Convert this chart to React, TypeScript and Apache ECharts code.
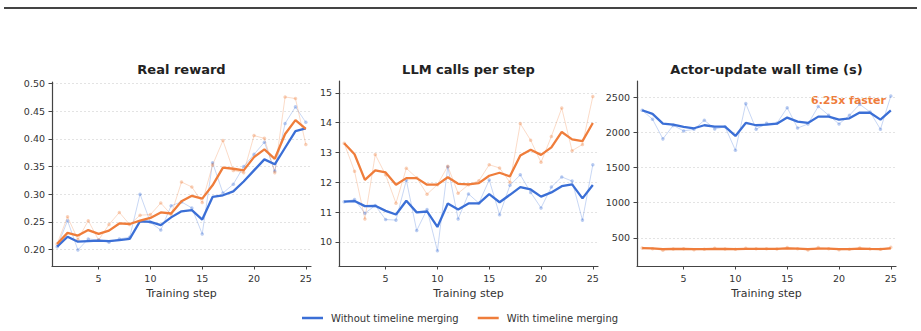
import React, { useEffect, useRef } from "react";
import * as echarts from "echarts";

const steps = [1, 2, 3, 4, 5, 6, 7, 8, 9, 10, 11, 12, 13, 14, 15, 16, 17, 18, 19, 20, 21, 22, 23, 24, 25];
const xTicks = [5, 10, 15, 20, 25];

const panelTitles = ["Real reward", "LLM calls per step", "Actor-update wall time (s)"];
const seriesNames = ["Without timeline merging", "With timeline merging"];

const rewardWithoutRaw = [0.205, 0.252, 0.199, 0.219, 0.217, 0.213, 0.219, 0.222, 0.3, 0.249, 0.235, 0.279, 0.286, 0.275, 0.228, 0.357, 0.302, 0.318, 0.35, 0.372, 0.394, 0.342, 0.428, 0.458, 0.43];
const rewardWithoutSmooth = [0.205, 0.223, 0.214, 0.215, 0.216, 0.215, 0.217, 0.219, 0.251, 0.25, 0.244, 0.258, 0.269, 0.271, 0.254, 0.295, 0.298, 0.305, 0.323, 0.343, 0.363, 0.354, 0.384, 0.414, 0.419];
const rewardWithRaw = [0.21, 0.259, 0.218, 0.252, 0.217, 0.245, 0.267, 0.245, 0.262, 0.263, 0.284, 0.263, 0.322, 0.313, 0.285, 0.353, 0.397, 0.343, 0.339, 0.406, 0.401, 0.339, 0.476, 0.473, 0.39];
const rewardWithSmooth = [0.21, 0.23, 0.225, 0.235, 0.228, 0.234, 0.247, 0.246, 0.252, 0.257, 0.267, 0.265, 0.287, 0.297, 0.292, 0.316, 0.348, 0.346, 0.343, 0.367, 0.381, 0.364, 0.409, 0.434, 0.418];

const callsWithoutRaw = [11.35, 11.42, 10.96, 11.22, 10.75, 10.73, 12.07, 10.38, 11.09, 9.7, 12.52, 10.77, 11.61, 11.3, 12.08, 10.91, 11.9, 12.25, 11.66, 11.14, 11.84, 12.18, 12.04, 10.73, 12.59];
const callsWithoutSmooth = [11.35, 11.37, 11.2, 11.21, 11.04, 10.92, 11.38, 10.99, 11.02, 10.5, 11.29, 11.09, 11.29, 11.29, 11.6, 11.33, 11.58, 11.84, 11.76, 11.52, 11.66, 11.87, 11.93, 11.46, 11.91];
const callsWithRaw = [13.31, 12.37, 10.77, 12.93, 12.25, 11.3, 12.47, 12.15, 11.6, 11.92, 12.54, 11.63, 11.92, 12.05, 12.59, 12.48, 12.0, 13.97, 13.41, 12.67, 13.54, 14.49, 13.06, 13.27, 14.88];
const callsWithSmooth = [13.31, 12.94, 12.08, 12.4, 12.33, 11.92, 12.14, 12.14, 11.92, 11.92, 12.17, 11.95, 11.93, 11.97, 12.22, 12.32, 12.2, 12.9, 13.09, 12.92, 13.17, 13.69, 13.44, 13.38, 13.99];

const timeWithoutRaw = [2315, 2187, 1908, 2100, 2021, 2044, 2173, 2050, 2080, 1746, 2410, 2045, 2130, 2130, 2352, 2062, 2120, 2370, 2245, 2120, 2243, 2400, 2290, 2045, 2518];
const timeWithoutSmooth = [2315, 2263, 2125, 2111, 2078, 2059, 2102, 2083, 2083, 1950, 2135, 2102, 2110, 2125, 2211, 2154, 2135, 2225, 2225, 2182, 2201, 2282, 2280, 2182, 2315];
const timeWithRaw = [355, 345, 322, 340, 345, 330, 335, 350, 340, 335, 350, 345, 345, 340, 360, 345, 325, 360, 345, 330, 335, 355, 340, 335, 365];
const timeWithSmooth = [352, 348, 338, 340, 342, 337, 337, 342, 340, 338, 342, 342, 342, 342, 348, 345, 338, 345, 344, 339, 337, 344, 341, 339, 350];

const rewardTicks = [0.2, 0.25, 0.3, 0.35, 0.4, 0.45, 0.5];
const callsTicks = [10, 11, 12, 13, 14, 15];
const timeTicks = [500, 1000, 1500, 2000, 2500];

const annotationText = "6.25x faster";

const BLUE = "#3b6fd6";
const ORANGE = "#ef7d3b";
const FONT = "DejaVu Sans";

export default function App() {
  const ref = useRef<HTMLDivElement>(null);

  useEffect(() => {
    document.body.style.margin = "0";
    if (!ref.current) return;
    const chart = echarts.init(ref.current, null, { renderer: "svg" });

    const grids = [
      { left: 52, top: 82, width: 259, height: 184 },
      { left: 339, top: 81, width: 259, height: 185 },
      { left: 637, top: 81, width: 259, height: 185 },
    ];
    const yRanges = [
      { min: 0.17, max: 0.503, ticks: rewardTicks, fmt: (v: number) => v.toFixed(2) },
      { min: 9.19, max: 15.4, ticks: callsTicks, fmt: (v: number) => String(v) },
      { min: 98, max: 2732, ticks: timeTicks, fmt: (v: number) => String(v) },
    ];
    const panelData = [
      [rewardWithoutRaw, rewardWithRaw, rewardWithoutSmooth, rewardWithSmooth],
      [callsWithoutRaw, callsWithRaw, callsWithoutSmooth, callsWithSmooth],
      [timeWithoutRaw, timeWithRaw, timeWithoutSmooth, timeWithSmooth],
    ];

    const axisLine = { show: true, lineStyle: { color: "#444", width: 1.2 } };

    const xAxes = grids.map((_, i) => ({
      type: "value",
      gridIndex: i,
      min: 0.5,
      max: 25.5,
      axisLine,
      axisTick: { show: true, length: 3.5, customValues: xTicks, lineStyle: { color: "#444", width: 1 } },
      axisLabel: { customValues: xTicks, color: "#333", fontFamily: FONT, fontSize: 9.5, margin: 7 },
      splitLine: { show: false },
      name: "Training step",
      nameLocation: "middle",
      nameGap: 18,
      nameTextStyle: { color: "#333", fontFamily: FONT, fontSize: 11, verticalAlign: "top" },
    }));

    const yAxes = yRanges.map((r, i) => ({
      type: "value",
      gridIndex: i,
      min: r.min,
      max: r.max,
      axisLine,
      axisTick: { show: true, length: 3.5, customValues: r.ticks, lineStyle: { color: "#444", width: 1 } },
      axisLabel: { customValues: r.ticks, formatter: r.fmt, color: "#333", fontFamily: FONT, fontSize: 9.5, margin: 7 },
      splitLine: { show: true, lineStyle: { color: "#dcdcdc", width: 0.8, type: [2, 2] } },
    }));

    const series: any[] = [];
    panelData.forEach((arrs, i) => {
      const [woRaw, wRaw, woS, wS] = arrs;
      const rawStyle = (color: string, name: string, data: number[]) => ({
        type: "line",
        name: name + " (raw)",
        xAxisIndex: i,
        yAxisIndex: i,
        data: steps.map((s, k) => [s, data[k]]),
        symbol: "circle",
        symbolSize: 3.5,
        showSymbol: true,
        lineStyle: { color, width: 1, opacity: 0.28 },
        itemStyle: { color, opacity: 0.35 },
        emphasis: { disabled: true },
        silent: true,
        z: 2,
      });
      const smoothStyle = (color: string, name: string, data: number[]) => ({
        type: "line",
        name,
        xAxisIndex: i,
        yAxisIndex: i,
        data: steps.map((s, k) => [s, data[k]]),
        symbol: "none",
        lineStyle: { color, width: 2.3 },
        itemStyle: { color },
        emphasis: { disabled: true },
        silent: true,
        z: 3,
      });
      series.push(rawStyle(BLUE, seriesNames[0], woRaw));
      series.push(rawStyle(ORANGE, seriesNames[1], wRaw));
      series.push(smoothStyle(BLUE, seriesNames[0], woS));
      series.push(smoothStyle(ORANGE, seriesNames[1], wS));
    });

    chart.setOption({
      animation: false,
      backgroundColor: "#ffffff",
      title: grids.map((g, i) => ({
        text: panelTitles[i],
        left: g.left + g.width / 2,
        top: 63,
        textAlign: "center",
        padding: 0,
        textStyle: { fontFamily: FONT, fontWeight: "bold", fontSize: 13, color: "#222" },
      })),
      grid: grids,
      xAxis: xAxes,
      yAxis: yAxes,
      legend: {
        data: seriesNames.map((n) => ({ name: n })),
        left: 302,
        top: 313,
        padding: 0,
        icon: "rect",
        itemWidth: 21,
        itemHeight: 2.5,
        itemGap: 19,
        textStyle: { fontFamily: FONT, fontSize: 10, color: "#333", padding: [0, 0, 0, 3] },
        selectedMode: false,
      },
      graphic: [
        {
          type: "line",
          shape: { x1: 4, y1: 8, x2: 917, y2: 8 },
          style: { stroke: "#444", lineWidth: 2 },
        },
        {
          type: "text",
          x: 886,
          y: 100,
          style: {
            text: annotationText,
            fill: ORANGE,
            font: `bold 11px "${FONT}"`,
            textAlign: "right",
            textVerticalAlign: "middle",
          },
        },
      ],
      series,
    });

    return () => chart.dispose();
  }, []);

  return <div ref={ref} style={{ width: 921, height: 331 }} />;
}
